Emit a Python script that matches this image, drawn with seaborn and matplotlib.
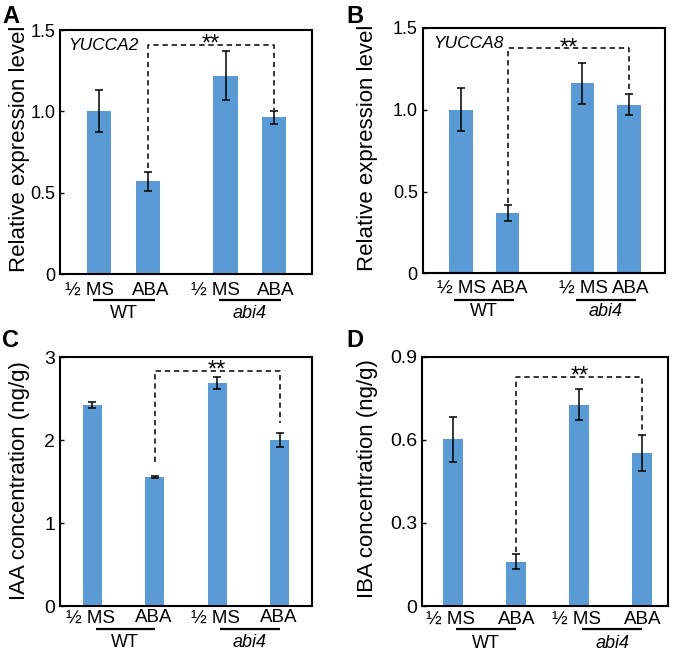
import matplotlib
matplotlib.use("Agg")
import matplotlib.pyplot as plt
import seaborn as sns
import pandas as pd

sns.set_style("white")
plt.rcParams['font.family'] = ['Liberation Sans', 'DejaVu Sans']
for k in ["text.color", "axes.labelcolor", "xtick.color", "ytick.color", "axes.edgecolor"]:
    plt.rcParams[k] = "black"

# ---------------- data ----------------
treatments = ["\u00bd MS", "ABA", "\u00bd MS", "ABA"]
genotypes = ["WT", "abi4"]

a_vals = [1.00, 0.57, 1.22, 0.965]
a_err = [0.13, 0.06, 0.15, 0.04]
b_vals = [1.00, 0.367, 1.163, 1.03]
b_err = [0.13, 0.048, 0.125, 0.065]
c_vals = [2.42, 1.555, 2.69, 2.005]
c_err = [0.035, 0.01, 0.07, 0.085]
d_vals = [0.602, 0.159, 0.726, 0.551]
d_err = [0.082, 0.027, 0.056, 0.065]

panel_letters = ["A", "B", "C", "D"]
gene_labels = ["YUCCA2", "YUCCA8", None, None]
ylabels = ["Relative expression level", "Relative expression level",
           "IAA concentration (ng/g)", "IBA concentration (ng/g)"]
yticks_ab = [0, 0.5, 1.0, 1.5]
yticklabels_ab = ["0", "0.5", "1.0", "1.5"]
yticks_c = [0, 1, 2, 3]
yticklabels_c = ["0", "1", "2", "3"]
yticks_d = [0, 0.3, 0.6, 0.9]
yticklabels_d = ["0", "0.3", "0.6", "0.9"]

# significance brackets: (start level, top level, end level) between bar 2 and bar 4
brackets = [(0.65, 1.41, 1.01), (0.43, 1.375, 1.10), (1.74, 2.84, 2.21), (0.196, 0.828, 0.623)]
sig_label = "**"

BAR = "#5B9BD5"

# ---------------- layout ----------------
fig = plt.figure(figsize=(6.75, 6.51), dpi=100)

panels = [
    dict(vals=a_vals, err=a_err, rect=[0.0889, 0.5791, 0.3733, 0.3748], pos=[0, 1, 2.6, 3.6],
         xlim=(-0.81, 4.38), width=0.5, ylim=(0, 1.5), yt=yticks_ab, ytl=yticklabels_ab,
         ylc=(-0.118, 0.515), line=(-0.14, 0.14), yl_tick=-0.066, yl_line=-0.107, yl_grp=-0.16,
         tdx=[-7, 2, -7, 1.5],
         gene_xy=(0.032, 0.918), letter_xy=(0.003, 0.993), tsize=13),
    dict(vals=b_vals, err=b_err, rect=[0.6262, 0.5802, 0.3590, 0.3768], pos=[0, 1, 2.6, 3.6],
         xlim=(-0.82, 4.37), width=0.5, ylim=(0, 1.5), yt=yticks_ab, ytl=yticklabels_ab,
         ylc=(-0.185, 0.51), line=(-0.14, 0.14), yl_tick=-0.062, yl_line=-0.109, yl_grp=-0.157,
         tdx=[0.5, 1.5, 0.5, 1.5],
         gene_xy=(0.043, 0.918), letter_xy=(0.513, 0.993), tsize=13),
    dict(vals=c_vals, err=c_err, rect=[0.0889, 0.0691, 0.3733, 0.3821], pos=[0, 1, 2, 3],
         xlim=(-0.52, 3.52), width=0.31, ylim=(0, 3), yt=yticks_c, ytl=yticklabels_c,
         ylc=(-0.118, 0.506), line=(0.05, 0.0), yl_tick=-0.048, yl_line=-0.092, yl_grp=-0.147,
         tdx=[-1.5, -0.5, -1.5, -0.5],
         gene_xy=None, letter_xy=(0.003, 0.495), tsize=14),
    dict(vals=d_vals, err=d_err, rect=[0.6256, 0.0691, 0.3644, 0.3830], pos=[0, 1, 2, 3],
         xlim=(-0.49, 3.41), width=0.32, ylim=(0, 0.9), yt=yticks_d, ytl=yticklabels_d,
         ylc=(-0.18, 0.51), line=(0.05, 0.0), yl_tick=-0.054, yl_line=-0.092, yl_grp=-0.149,
         tdx=[-2, 0, -2, 0],
         gene_xy=None, letter_xy=(0.513, 0.495), tsize=14),
]

for i, p in enumerate(panels):
    ax = fig.add_axes(p["rect"])
    df = pd.DataFrame({"pos": p["pos"], "value": p["vals"]})
    sns.barplot(data=df, x="pos", y="value", native_scale=True, width=p["width"],
                color=BAR, saturation=1, linewidth=0, errorbar=None, ax=ax)
    ax.errorbar(p["pos"], p["vals"], yerr=p["err"], fmt="none", ecolor="black",
                elinewidth=1.1, capsize=2.6, capthick=1.1, zorder=5)
    ax.set_xlim(*p["xlim"])
    ax.set_ylim(*p["ylim"])
    ax.set_yticks(p["yt"])
    ax.set_yticklabels(p["ytl"], fontsize=p["tsize"])
    ax.set_xticks([])
    ax.set_xlabel("")
    ax.set_ylabel(ylabels[i], fontsize=16)
    ax.yaxis.set_label_coords(*p["ylc"])
    ax.tick_params(axis="y", direction="in", length=3, width=1, pad=3.5, left=True)
    for s in ax.spines.values():
        s.set_visible(True)
        s.set_color("black")
        s.set_linewidth(1.5)

    tr = ax.get_xaxis_transform()
    # treatment labels
    for x, t, dx in zip(p["pos"], treatments, p["tdx"]):
        ax.annotate(t, xy=(x, p["yl_tick"]), xycoords=tr, xytext=(dx, 0),
                    textcoords="offset points", ha="center", va="center", fontsize=13.5,
                    annotation_clip=False)
    # genotype underline + labels
    for g, (x0, x1) in enumerate([(p["pos"][0], p["pos"][1]), (p["pos"][2], p["pos"][3])]):
        lx0 = x0 + p["line"][0]
        lx1 = x1 + p["line"][1]
        ax.plot([lx0, lx1], [p["yl_line"]] * 2, transform=tr, color="black", lw=1.6,
                clip_on=False, solid_capstyle="butt")
        ax.text((lx0 + lx1) / 2, p["yl_grp"], genotypes[g], transform=tr, ha="center",
                va="center", fontsize=13, style="italic" if g == 1 else "normal")
    # significance bracket
    s0, top, s1 = brackets[i]
    xa, xb = p["pos"][1], p["pos"][3]
    ax.plot([xa, xa, xb, xb], [s0, top, top, s1], color="black", lw=1.1,
            ls=(0, (3.5, 2.5)), zorder=6)
    ax.annotate(sig_label, xy=((xa + xb) / 2, top), xytext=(0, -4.5), textcoords="offset points",
                ha="center", va="baseline", fontsize=17)
    if gene_labels[i]:
        ax.text(p["gene_xy"][0], p["gene_xy"][1], gene_labels[i], transform=ax.transAxes,
                ha="left", va="baseline", fontsize=12.5, style="italic")
    fig.text(p["letter_xy"][0], p["letter_xy"][1], panel_letters[i], fontsize=17,
             fontweight="bold", ha="left", va="top")

fig.savefig("out.png", dpi=100)
